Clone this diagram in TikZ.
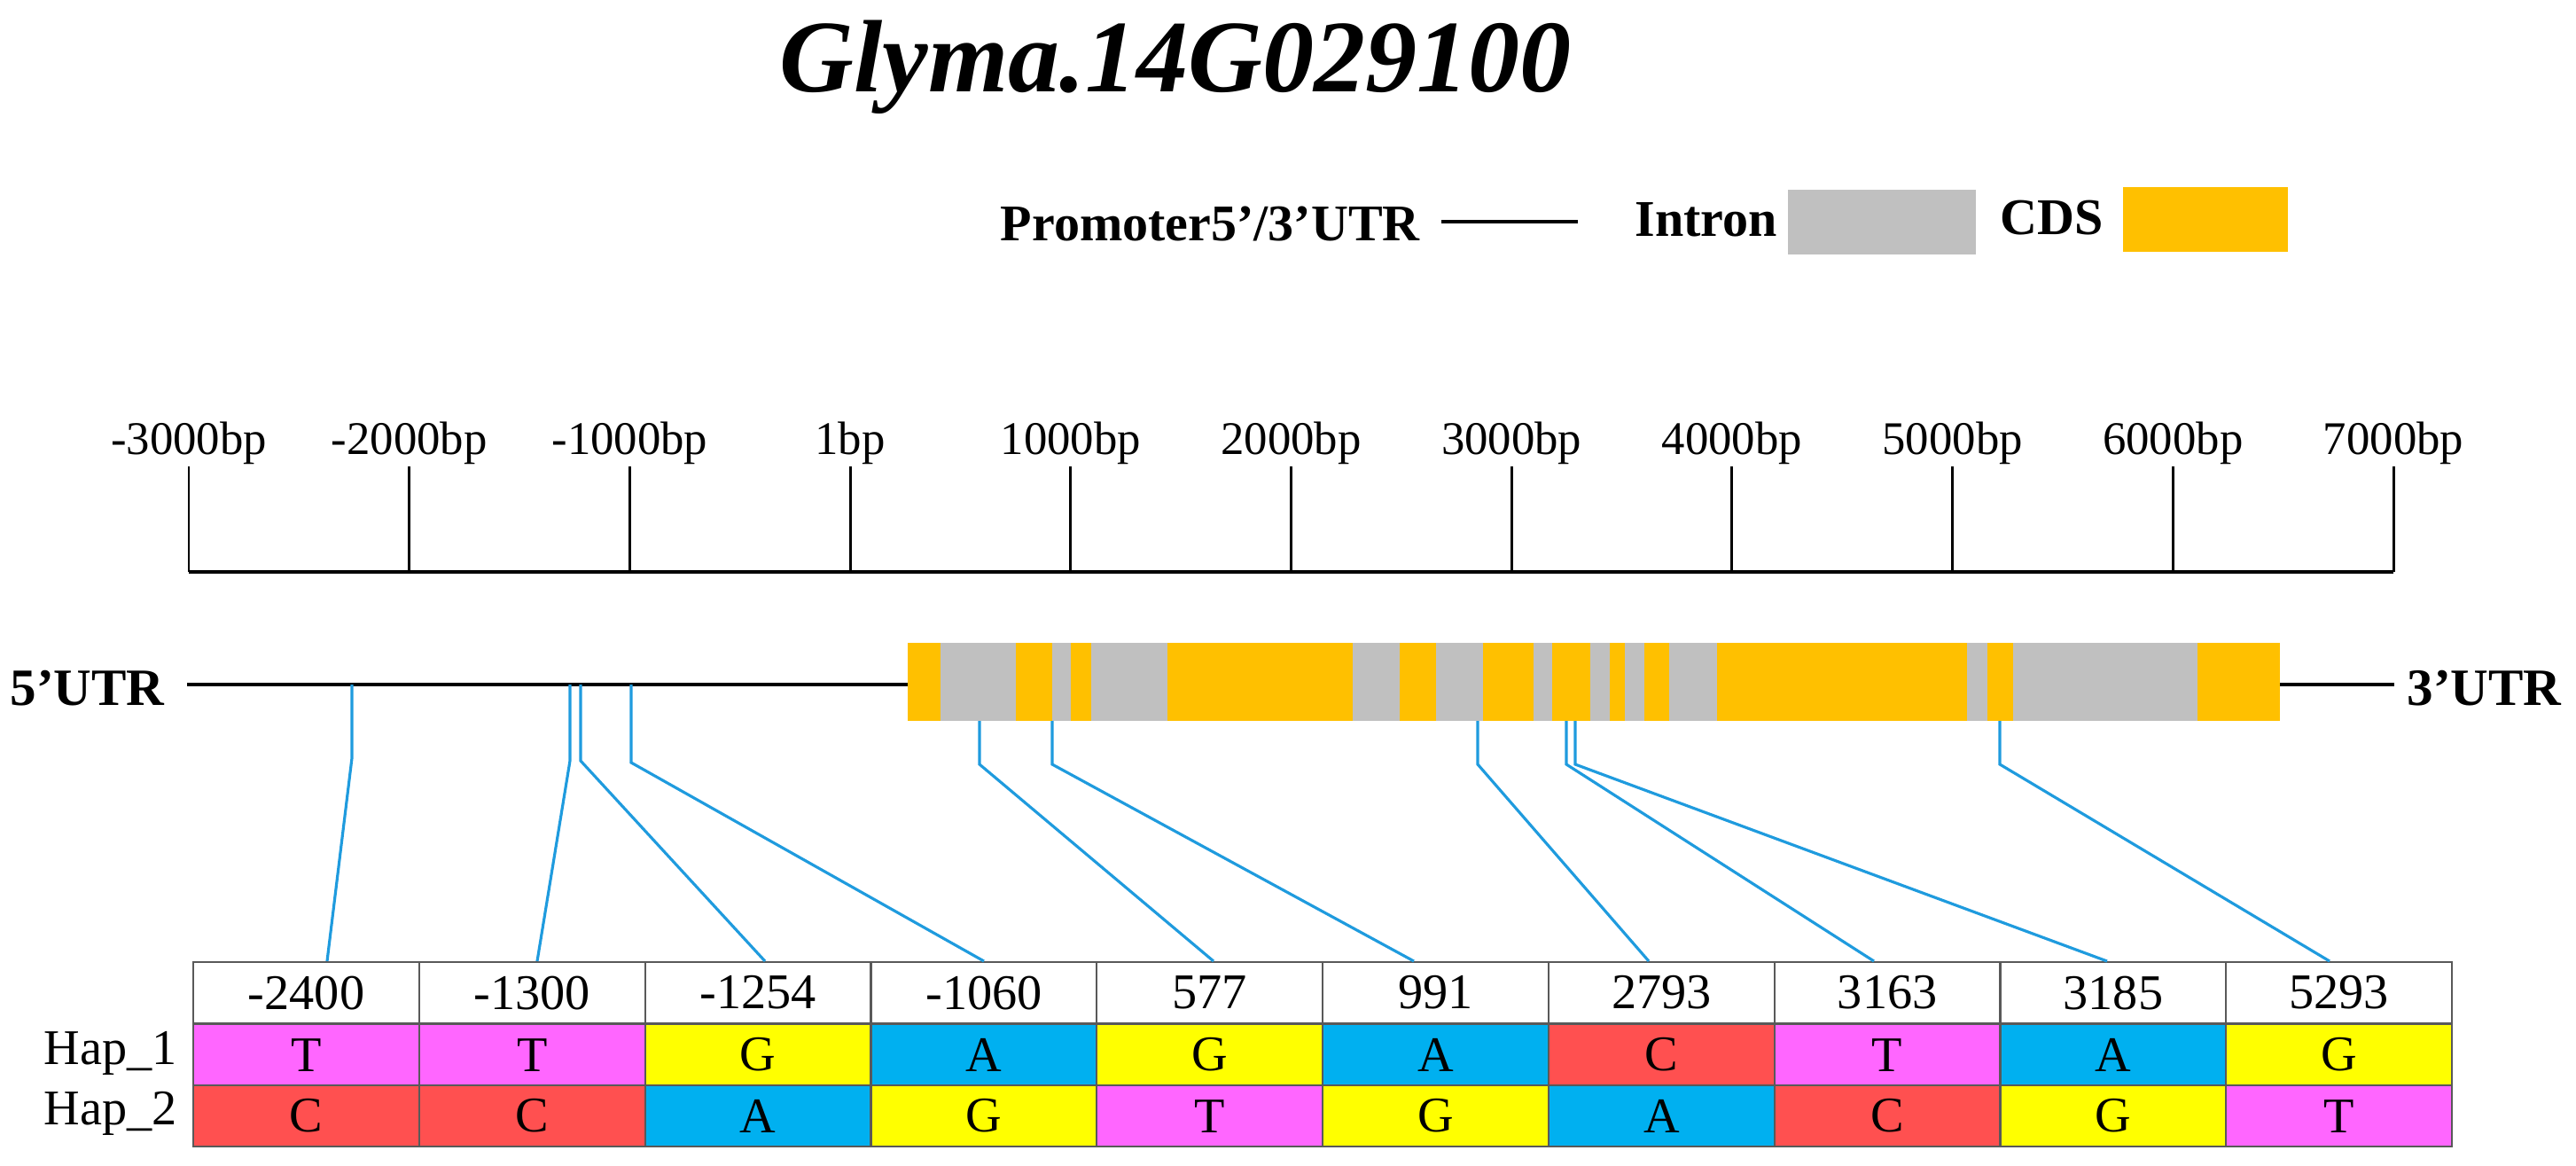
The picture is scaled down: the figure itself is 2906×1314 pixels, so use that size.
\documentclass[tikz,border=0pt]{standalone}
\usepackage{fontspec}
\setmainfont{Liberation Serif}
\begin{document}
\begin{tikzpicture}[x=0.01cm,y=-0.01cm,
  snp/.style={draw=snpc,line width=0.9pt},
  cell/.style={draw=gray!70!black,line width=0.6pt,minimum width=2.548cm,minimum height=0.69cm,inner sep=0pt,anchor=north west,font=\fontsize{16}{16}\selectfont},
  ticklab/.style={font=\fontsize{15}{15}\selectfont},
  lgtext/.style={anchor=east,font=\fontsize{16.5}{16.5}\selectfont\bfseries}]
\definecolor{cdsc}{HTML}{FFC000}
\definecolor{intc}{HTML}{C0C0C0}
\definecolor{snpc}{HTML}{1F9BDE}
\definecolor{cA}{HTML}{00B0F0}
\definecolor{cT}{HTML}{FF66FF}
\definecolor{cC}{HTML}{FF5050}
\definecolor{cG}{HTML}{FFFF00}
\useasboundingbox (0,0) rectangle (2906,1314);
% title
\node (title) at (1326,76) {\fontsize{33}{33}\selectfont\bfseries\itshape Glyma.14G029100};
% legend
\node[lgtext] (lgp) at (1614,252) {Promoter5’/3’UTR};
\coordinate (lgl1) at (1626,250); \coordinate (lgl2) at (1780,250);
\draw[line width=1.2pt] (lgl1) -- (lgl2);
\node[lgtext] (lgi) at (2017,248) {Intron};
\fill[intc] (2017,214) rectangle (2229,287);
\node[lgtext] (lgc) at (2385,246) {CDS};
\fill[cdsc] (2395,211) rectangle (2581,284);
% scale bar
\draw[line width=1pt] (213,645) -- (2700,645);
\foreach \l [count=\i from 0] in {-3000bp,-2000bp,-1000bp,1bp,1000bp,2000bp,3000bp,4000bp,5000bp,6000bp,7000bp}{
  \pgfmathsetmacro{\xx}{213+248.7*\i}
  \draw[line width=0.85pt] (\xx,645) -- (\xx,526);
  \node[ticklab] (tl\i) at (\xx,500) {\l};
}
% gene structure
\node[anchor=east,font=\fontsize{16.8}{16.8}\selectfont\bfseries] (utr5) at (198,776) {5’UTR};
\node[anchor=west,font=\fontsize{16.8}{16.8}\selectfont\bfseries] (utr3) at (2703,776) {3’UTR};
\draw[line width=1.4pt] (211,772) -- (2701,772);
\foreach \a/\b in {1024/1061,1146/1187,1208/1231,1317/1526,1579/1620,1673/1730,1751/1794,1816/1833,1855/1883,1937/2219,2242/2271,2479/2572}{
  \fill[cdsc] (\a,725) rectangle (\b,813);}
\foreach \a/\b in {1061/1146,1187/1208,1231/1317,1526/1579,1620/1673,1730/1751,1794/1816,1833/1855,1883/1937,2219/2242,2271/2479}{
  \fill[intc] (\a,725) rectangle (\b,813);}
% table
\foreach \p/\h/\a/\g/\b [count=\i from 0] in {-2400/cT/T/cC/C,-1300/cT/T/cC/C,-1254/cG/G/cA/A,-1060/cA/A/cG/G,577/cG/G/cT/T,991/cA/A/cG/G,2793/cC/C/cA/A,3163/cT/T/cC/C,3185/cA/A/cG/G,5293/cG/G/cT/T}{
  \pgfmathsetmacro{\xx}{217+254.8*\i}
  \node[cell,fill=white] (h\i) at (\xx,1084) {\p};
  \node[cell,fill=\h] (a\i) at (\xx,1154) {\a};
  \node[cell,fill=\g] (b\i) at (\xx,1223) {\b};
}
\node[anchor=east,font=\fontsize{16}{16}\selectfont] (hap1) at (212,1188) {Hap\_1};
\node[anchor=east,font=\fontsize{16}{16}\selectfont] (hap2) at (212,1256) {Hap\_2};
% SNP connectors
\foreach \sx/\sy/\by/\ex [count=\i from 0] in {397/772/855/369,643/772/858/606,655/772/858/863,712/772/860/1110,1105/813/862/1369,1187/813/862/1595,1667/813/862/1860,1767/813/862/2114,1777/813/862/2377,2256/813/862/2628}{
  \coordinate (s\i) at (\sx,\sy);
  \coordinate (k\i) at (\sx,\by);
  \coordinate (e\i) at (\ex,1084);
  \draw[snp] (s\i) -- (k\i) -- (e\i);
}
\end{tikzpicture}
\end{document}
